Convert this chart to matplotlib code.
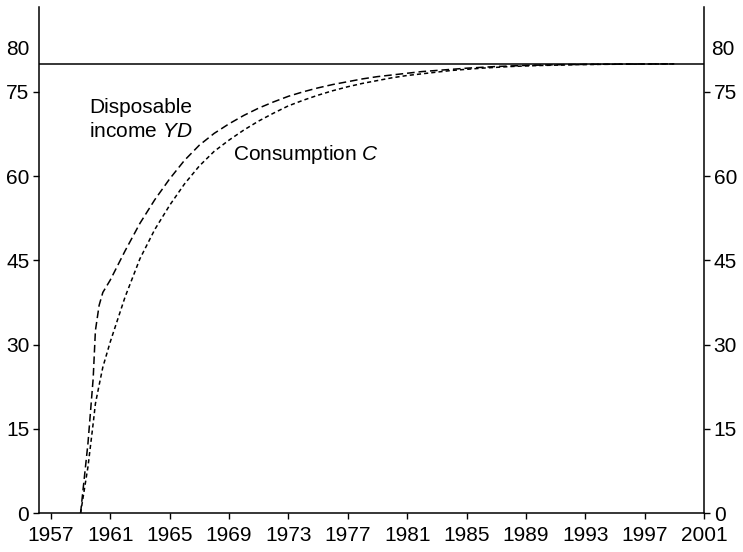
"""
Model SIM: disposable income and consumption converging to steady state.
"""

import matplotlib
matplotlib.use("Agg")
import matplotlib.pyplot as plt

plt.rcParams["font.family"] = ["Liberation Sans", "DejaVu Sans"]
plt.rcParams["mathtext.fontset"] = "custom"
plt.rcParams["mathtext.it"] = "Liberation Sans:italic"
plt.rcParams["mathtext.rm"] = "Liberation Sans"
plt.rcParams["lines.scale_dashes"] = False

years = [1959, 1959.5, 1959.85, 1960, 1960.25, 1960.5] + list(range(1961, 2000))
disposable_income = [
    0.0, 12.5, 24.0, 32.5, 37.0, 39.3,
    41.5, 46.7, 51.6, 55.8, 59.5, 62.8, 65.5, 67.6,
    69.3, 70.8, 72.1, 73.2, 74.2, 75.0, 75.7, 76.3, 76.8, 77.3,
    77.7, 78.0, 78.3, 78.6, 78.8, 79.0, 79.2, 79.35, 79.5, 79.6,
    79.7, 79.75, 79.8, 79.85, 79.88, 79.9, 79.92, 79.94, 79.95, 79.96,
    79.97,
]
consumption = [
    0.0, 8.3, 16.0, 19.5, 22.8, 26.0,
    30.5, 38.5, 45.3, 50.5, 54.8, 58.6, 61.8, 64.4,
    66.4, 68.2, 69.8, 71.2, 72.5, 73.5, 74.4, 75.2, 75.9, 76.5,
    77.0, 77.5, 77.9, 78.2, 78.5, 78.8, 79.0, 79.2, 79.35, 79.5,
    79.6, 79.68, 79.74, 79.8, 79.85, 79.88, 79.9, 79.92, 79.94, 79.95,
    79.96,
]
steady_state = 80
x_ticks = list(range(1957, 2002, 4))
y_ticks = [0, 15, 30, 45, 60, 75]

fig = plt.figure(figsize=(7.43, 5.52), dpi=100)
ax = fig.add_axes([39 / 743, 1 - 513.3 / 552, 665 / 743, 505.8 / 552])

ax.axhline(steady_state, color="black", lw=1.1)
ax.plot(years, disposable_income, color="black", lw=1.1, dashes=(5.5, 2.8))
ax.plot(years, consumption, color="black", lw=1.1, dashes=(3.0, 2.2))

ax.set_xlim(1956.2, 2001)
ax.set_ylim(0, 90)
ax.set_xticks(x_ticks)
ax.set_yticks(y_ticks)
ax.tick_params(axis="both", labelsize=15, length=4, width=1, color="black")
ax.tick_params(axis="y", left=True, right=True, labelleft=True, labelright=True,
               pad=3)
ax.tick_params(axis="x", pad=5)
ax.spines["top"].set_visible(False)
for side in ["left", "right", "bottom"]:
    ax.spines[side].set_linewidth(1.1)

# 80 label sits above the steady-state line, no tick
ax.text(-0.014, 81.5, "80", transform=ax.get_yaxis_transform(),
        ha="right", va="baseline", fontsize=15)
ax.text(1.011, 81.5, "80", transform=ax.get_yaxis_transform(),
        ha="left", va="baseline", fontsize=15)

ax.text(1959.58, 71.3, "Disposable", ha="left", va="baseline", fontsize=15)
ax.text(1959.58, 66.9, r"income $\mathit{YD}$", ha="left", va="baseline",
        fontsize=15)
ax.text(1969.26, 62.9, r"Consumption $\mathit{C}$", ha="left", va="baseline",
        fontsize=15)

plt.savefig("out.png", dpi=100)
